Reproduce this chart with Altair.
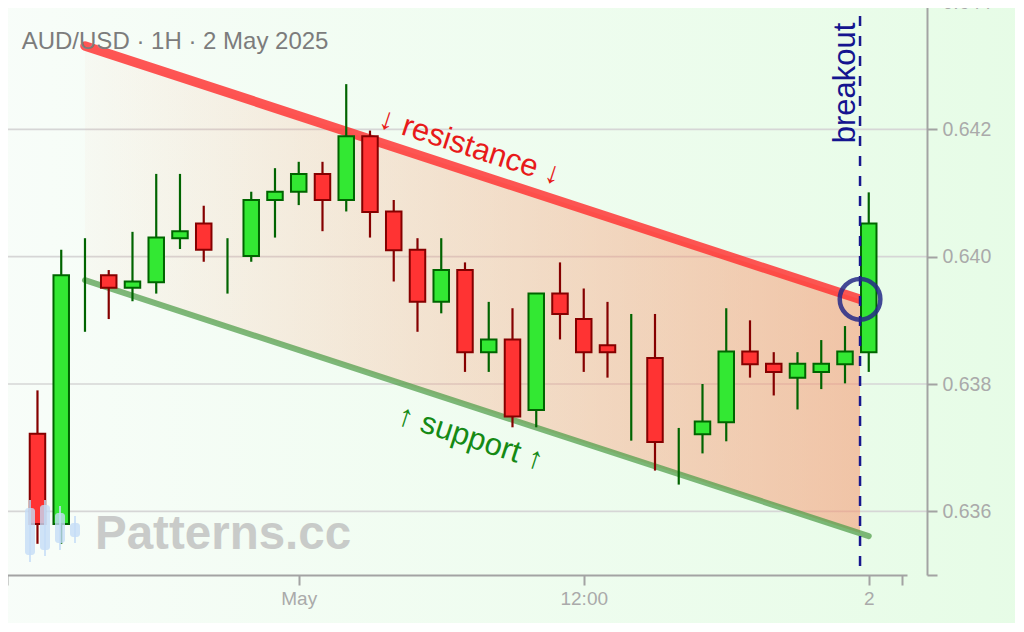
import altair as alt
import pandas as pd

# ---------------- data ----------------
TIMES = [t.strftime("%Y-%m-%dT%H:%M:%SZ")
         for t in pd.date_range("2025-04-30 13:00", periods=36, freq="h")]
OPEN = [0.63722, 0.63580, 0.63971, 0.63971, 0.63951, 0.63960, 0.64029, 0.64052, 0.64011,
        0.64001, 0.64089, 0.64102, 0.64130, 0.64089, 0.64189, 0.64071, 0.64011, 0.63929,
        0.63979, 0.63850, 0.63870, 0.63759, 0.63942, 0.63902, 0.63861, 0.63850, 0.63841,
        0.63709, 0.63721, 0.63740, 0.63851, 0.63832, 0.63810, 0.63819, 0.63831, 0.63850]
HIGH = [0.63790, 0.64011, 0.64029, 0.63979, 0.64039, 0.64130, 0.64130, 0.64080, 0.64029,
        0.64102, 0.64139, 0.64149, 0.64149, 0.64271, 0.64198, 0.64089, 0.64029, 0.64029,
        0.63991, 0.63929, 0.63919, 0.63942, 0.63991, 0.63950, 0.63929, 0.63910, 0.63910,
        0.63731, 0.63800, 0.63919, 0.63900, 0.63850, 0.63850, 0.63869, 0.63891, 0.64101]
LOW = [0.63549, 0.63549, 0.63882, 0.63902, 0.63930, 0.63942, 0.64012, 0.63992, 0.63942,
       0.63992, 0.64030, 0.64081, 0.64040, 0.64071, 0.64030, 0.63961, 0.63882, 0.63911,
       0.63819, 0.63819, 0.63732, 0.63732, 0.63870, 0.63819, 0.63810, 0.63711, 0.63664,
       0.63642, 0.63691, 0.63710, 0.63810, 0.63782, 0.63760, 0.63792, 0.63801, 0.63819]
CLOSE = [0.63580, 0.63971, 0.63971, 0.63951, 0.63961, 0.64030, 0.64040, 0.64011, 0.64011,
         0.64089, 0.64102, 0.64130, 0.64089, 0.64189, 0.64070, 0.64010, 0.63929, 0.63979,
         0.63850, 0.63870, 0.63749, 0.63942, 0.63910, 0.63850, 0.63850, 0.63850, 0.63709,
         0.63709, 0.63741, 0.63851, 0.63831, 0.63819, 0.63832, 0.63832, 0.63851, 0.64052]

RES_T = ["2025-04-30T15:00:00Z", "2025-05-01T23:38:00Z"]
RES_V = [0.64331, 0.63933]
SUP_T = ["2025-04-30T15:00:00Z", "2025-05-02T00:00:00Z"]
SUP_V = [0.63963, 0.63561]
CH_T = ["2025-04-30T15:00:00Z", "2025-05-01T23:38:00Z"]
CH_LOW = [0.63963, 0.63566]
CH_HIGH = [0.64331, 0.63933]
BREAKOUT_T = ["2025-05-01T23:38:00Z"]
BREAKOUT_V = [0.63933]

Y_TICKS = [0.635, 0.636, 0.638, 0.640, 0.642, 0.644]
GRID = [0.636, 0.638, 0.640, 0.642, 0.644]
X_TICK_LABELS = ["May", "12:00", "2"]

TITLE = "AUD/USD · 1H · 2 May 2025"
RES_LABEL = "↓ resistance ↓"
SUP_LABEL = "↑ support ↑"
BRK_LABEL = "breakout"
WATERMARK = "Patterns.cc"

# ---------------- frames ----------------
candles = pd.DataFrame({"t": TIMES, "o": OPEN, "h": HIGH, "l": LOW, "c": CLOSE})
candles["dir"] = ["up" if c >= o else "down" for o, c in zip(OPEN, CLOSE)]
bodies = candles[candles["o"] != candles["c"]]
res_df = pd.DataFrame({"t": RES_T, "v": RES_V})
sup_df = pd.DataFrame({"t": SUP_T, "v": SUP_V})
ch_df = pd.DataFrame({"t": CH_T, "lo": CH_LOW, "hi": CH_HIGH})
brk_df = pd.DataFrame({"t": BREAKOUT_T, "v": BREAKOUT_V})
grid_df = pd.DataFrame({"g": GRID})
one = pd.DataFrame({"a": [0]})

# logo (decorative) in pixel space
logo = pd.DataFrame({
    "cx": [28, 43, 58, 73],
    "bt": [506, 503, 511, 521], "bb": [553, 548, 541, 535],
    "wt": [498, 498, 504, 514], "wb": [560, 554, 548, 541],
})
logo["x0"] = logo["cx"] - 5
logo["x1"] = logo["cx"] + 5

# ---------------- scales / axes ----------------
D0 = alt.DateTime(year=2025, month=4, date=30, hours=11, minutes=43, utc=True)
D1 = alt.DateTime(year=2025, month=5, date=2, hours=1, minutes=24, utc=True)
XT = [D0,
      alt.DateTime(year=2025, month=5, date=1, hours=0, utc=True),
      alt.DateTime(year=2025, month=5, date=1, hours=12, utc=True),
      alt.DateTime(year=2025, month=5, date=2, hours=0, utc=True),
      D1]
label_expr = ("datum.index == 0.25 ? '%s' : datum.index == 0.5 ? '%s' : "
              "datum.index == 0.75 ? '%s' : ''") % tuple(X_TICK_LABELS)

AX_GRAY = "#a3a3a3"
XSCALE = alt.Scale(type="utc", domain=[D0, D1])
XAXIS = alt.Axis(values=XT, labelExpr=label_expr, title=None, grid=False, zindex=1,
                 domainColor=AX_GRAY, domainWidth=2, tickColor=AX_GRAY, tickWidth=2,
                 tickSize=10, labelColor="#aaaaaa", labelFontSize=19, labelPadding=4,
                 labelFlush=False, labelOverlap=False, labelFont="Liberation Sans")
YSCALE = alt.Scale(domain=[0.635, 0.644], zero=False, nice=False)
YAXIS = alt.Axis(orient="right", offset=20, values=Y_TICKS, format=".3f", zindex=1,
                 labelExpr="datum.value < 0.6355 ? '' : datum.label",
                 title=None, grid=False, domainColor=AX_GRAY, domainWidth=2,
                 tickColor=AX_GRAY, tickWidth=2, tickSize=10, labelColor="#aaaaaa",
                 labelFontSize=19.5, labelPadding=5, labelFont="Liberation Sans")


def X(f):
    return alt.X(f, type="temporal", scale=XSCALE, axis=XAXIS)


def Y(f):
    return alt.Y(f, type="quantitative", scale=YSCALE, axis=YAXIS)


W, H = 905, 573

bg = alt.Chart(one).mark_rect(
    fill=alt.LinearGradient(gradient="linear", x1=0, y1=0, x2=1, y2=0,
                            stops=[alt.GradientStop(color="#f8fdf9", offset=0),
                                   alt.GradientStop(color="#e6fce6", offset=1)])
).encode(x=alt.value(-10), x2=alt.value(1040), y=alt.value(-10), y2=alt.value(660))

grid = alt.Chart(grid_df).mark_rule(color="#d6d6d6", strokeWidth=1.6).encode(
    y=Y("g"), x=alt.value(-2), x2=alt.value(W + 20))

channel = alt.Chart(ch_df).mark_area(
    fill=alt.LinearGradient(gradient="linear", x1=0, y1=0, x2=1, y2=0,
                            stops=[alt.GradientStop(color="rgba(250,150,110,0.04)", offset=0),
                                   alt.GradientStop(color="rgba(248,140,100,0.5)", offset=1)])
).encode(x=X("t"), y=Y("lo"), y2=alt.Y2("hi"))

res_line = alt.Chart(res_df).mark_line(color="#ff3030", opacity=0.82, strokeWidth=9.5,
                                       strokeCap="round").encode(x=X("t"), y=Y("v"))
sup_line = alt.Chart(sup_df).mark_line(color="#4f9c48", opacity=0.72, strokeWidth=6,
                                       strokeCap="round").encode(x=X("t"), y=Y("v"))

wicks = alt.Chart(candles).mark_rule(strokeWidth=2.2).encode(
    x=X("t"), y=Y("l"), y2=alt.Y2("h"),
    color=alt.Color("dir:N", scale=alt.Scale(domain=["up", "down"],
                                             range=["#006400", "#850000"]), legend=None))

body = alt.Chart(bodies).mark_bar(size=15.5, strokeWidth=2).encode(
    x=X("t"), y=Y("o"), y2=alt.Y2("c"),
    fill=alt.Fill("dir:N", scale=alt.Scale(domain=["up", "down"],
                                           range=["#33e833", "#ff3333"]), legend=None),
    stroke=alt.Stroke("dir:N", scale=alt.Scale(domain=["up", "down"],
                                               range=["#006400", "#850000"]), legend=None))

brk_rule = alt.Chart(brk_df).mark_rule(color="#18188f", strokeWidth=2.5,
                                       strokeDash=[10, 10]).encode(
    x=X("t"), y=alt.value(-6), y2=alt.value(H))

circle = alt.Chart(brk_df).mark_point(shape="circle", size=1650, filled=False,
                                      stroke="#262a88", strokeWidth=4.5, opacity=0.85).encode(
    x=X("t"), y=Y("v"))

title_t = alt.Chart(one).mark_text(text=TITLE, align="left", baseline="alphabetic",
                                   fontSize=24, color="#7c7c7c").encode(
    x=alt.value(19.7), y=alt.value(47.3))

res_t = alt.Chart(one).mark_text(text=RES_LABEL, align="center", baseline="middle",
                                 fontSize=31, angle=18, color="#e81a1a").encode(
    x=alt.value(468), y=alt.value(145.3))

sup_t = alt.Chart(one).mark_text(text=SUP_LABEL, align="center", baseline="middle",
                                 fontSize=31, angle=18, color="#158a15").encode(
    x=alt.value(468.5), y=alt.value(436.3))

brk_t = alt.Chart(one).mark_text(text=BRK_LABEL, align="center", baseline="alphabetic",
                                 fontSize=31, angle=270, color="#14148f").encode(
    x=alt.value(853), y=alt.value(81))

logo_w = alt.Chart(logo).mark_rule(color="#c4dcf6", strokeWidth=2, opacity=0.8).encode(
    x=alt.X("cx:Q", scale=None), y=alt.Y("wt:Q", scale=None), y2="wb:Q")
logo_b = alt.Chart(logo).mark_rect(color="#c4dcf6", opacity=0.8, cornerRadius=3).encode(
    x=alt.X("x0:Q", scale=None), x2="x1:Q", y=alt.Y("bt:Q", scale=None), y2="bb:Q")

wm = alt.Chart(one).mark_text(text=WATERMARK, align="left", baseline="alphabetic",
                              fontSize=47.5, fontWeight="bold", color="#b9b9b9",
                              opacity=0.72).encode(x=alt.value(93), y=alt.value(547.3))

chart = alt.layer(
    bg, grid, channel, res_line, sup_line, wicks, body, brk_rule, circle,
    title_t, res_t, sup_t, brk_t, logo_w, logo_b, wm
).resolve_scale(color="independent").properties(
    width=W, height=H,
    autosize=alt.AutoSizeParams(type="none"),
    padding={"left": -6, "top": -6, "right": 108, "bottom": 48},
    background="#eefcee",
).configure(font="Liberation Sans").configure_view(stroke=None)

chart.save("out.html", embed_options={"renderer": "svg", "actions": False})
